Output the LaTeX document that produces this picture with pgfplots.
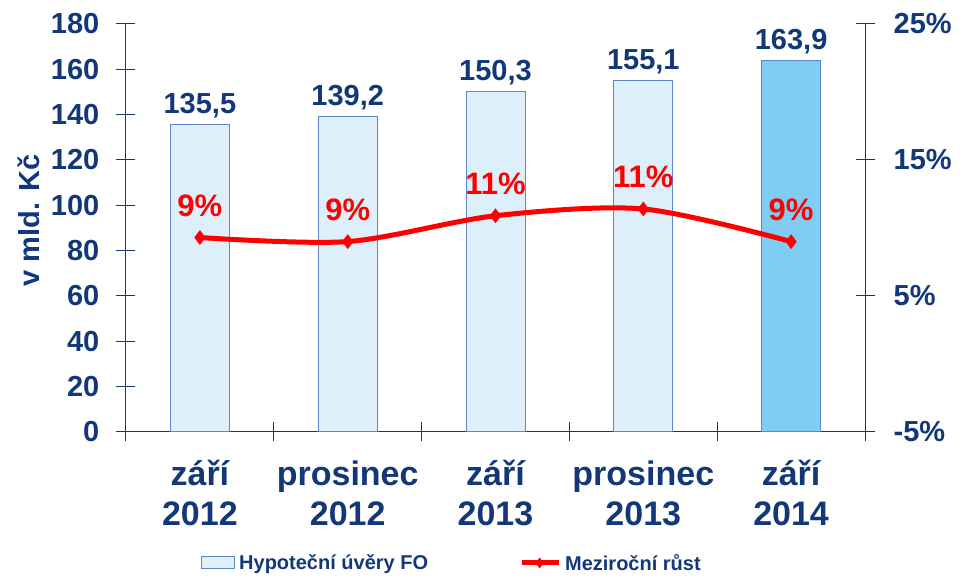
\documentclass[border=0pt]{standalone}
\usepackage{fontspec}
\setmainfont{Liberation Sans}
\usepackage{pgfplots}
\pgfplotsset{compat=1.18}
\definecolor{navy}{RGB}{18,56,122}
\definecolor{barlight}{RGB}{222,239,252}
\definecolor{bardark}{RGB}{127,205,242}
\definecolor{baredge}{RGB}{95,135,195}
\newcommand{\tickfont}{\bfseries\fontsize{29}{29}\selectfont}
\pgfplotsset{
  boxlegend/.style={legend image code/.code={\draw[##1] (0pt,-6pt) rectangle (33pt,6pt);}},
  linelegend/.style={legend image code/.code={\draw[##1, mark repeat=2, mark phase=2] plot coordinates {(0pt,0pt) (18pt,0pt) (37pt,0pt)};}},
  barlabels/.style={nodes near coords,
    nodes near coords style={font=\tickfont, text=navy, anchor=base, yshift=11pt, inner sep=0pt,
      /pgf/number format/.cd, use comma, fixed, fixed zerofill, precision=1}},
}
\begin{document}
\begin{tikzpicture}
\useasboundingbox (-126pt,-145pt) rectangle (835pt,432pt);
% bars, left axis
\begin{axis}[
  width=739pt, height=408pt, scale only axis,
  xmin=-0.5, xmax=4.5, ymin=0, ymax=180,
  ytick={0,20,...,180},
  xtick={-0.5,0.5,1.5,2.5,3.5,4.5},
  xticklabels={,,,,,},
  extra x ticks={0,1,2,3,4},
  extra x tick labels={{\strut září\\2012},{\strut prosinec\\2012},{\strut září\\2013},{\strut prosinec\\2013},{\strut září\\2014}},
  extra x tick style={major tick length=0pt},
  axis x line*=bottom, axis y line*=left,
  axis line style={navy, line width=1pt, -},
  tick style={navy, line width=1pt},
  major tick length=19pt, tick align=center,
  /pgf/number format/assume math mode=true,
  yticklabel style={font=\tickfont, text=navy, inner sep=0pt, anchor=east, xshift=-17pt},
  xticklabel style={font=\bfseries\fontsize{34}{40}\selectfont, text=navy, align=center, inner sep=0pt, anchor=north, yshift=-25pt},
  ylabel={v mld. Kč},
  ylabel style={font=\tickfont, text=navy, at={(axis description cs:-0.1164,0.518)}, anchor=base},
  legend style={draw=none, fill=none, inner sep=0pt, at={(axis description cs:0.1015,-0.321)}, anchor=west,
    legend columns=2, font=\bfseries\fontsize{20}{20}\selectfont, text=navy,
    nodes={inner sep=0pt}, column sep=4pt,
    /tikz/every even column/.append style={column sep=91pt}},
  legend cell align=left,
  clip=false,
]
\addplot[ybar, bar width=59pt, bar shift=0pt, fill=barlight, draw=baredge, line width=1pt, boxlegend, barlabels]
  coordinates {(0,135.5) (1,139.2) (2,150.3) (3,155.1)};
\addlegendentry{Hypoteční úvěry FO}
\addplot[ybar, bar width=59pt, bar shift=0pt, fill=bardark, draw=baredge, line width=1pt, forget plot, barlabels]
  coordinates {(4,163.9)};
\addlegendimage{red, line width=5pt, mark=diamond*, mark size=5pt, mark options={solid, line width=0.5pt}, linelegend}
\addlegendentry{Meziroční růst}
\end{axis}
% growth line, right axis
\begin{axis}[
  width=739pt, height=408pt, scale only axis,
  xmin=-0.5, xmax=4.5, ymin=-5, ymax=25,
  ytick={-5,5,15,25},
  axis x line=none, axis y line*=right,
  axis line style={navy, line width=1pt, -},
  tick style={navy, line width=1pt},
  major tick length=19pt, tick align=center,
  /pgf/number format/assume math mode=true,
  yticklabel={\pgfmathprintnumber{\tick}\%},
  yticklabel style={font=\tickfont, text=navy, inner sep=0pt, anchor=west, xshift=19pt},
  clip=false,
]
\addplot[red, line width=5pt, smooth, mark=diamond*, mark size=7pt, mark options={solid, line width=0.5pt},
  nodes near coords={\pgfmathprintnumber[fixed,precision=0]{\pgfplotspointmeta}\%},
  nodes near coords style={font=\bfseries\fontsize{31}{31}\selectfont, text=red, anchor=base, yshift=21pt, inner sep=0pt}]
  coordinates {(0,9.3) (1,9.0) (2,10.9) (3,11.4) (4,9.0)};
\end{axis}
\end{tikzpicture}
\end{document}
